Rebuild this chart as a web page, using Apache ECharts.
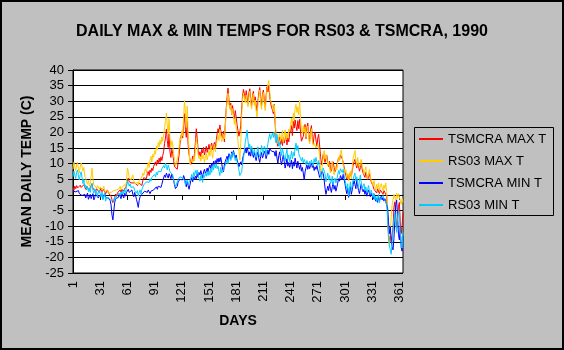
<!DOCTYPE html>
<html>
<head>
<meta charset="utf-8">
<script src="https://cdn.jsdelivr.net/npm/echarts@6/dist/echarts.min.js"></script>
<style>
html,body{margin:0;padding:0;background:#c0c0c0;}
#chart{width:564px;height:350px;}
</style>
</head>
<body>
<div id="chart"></div>
<script>
// Day numbers 1..365
const days = [];
for (let d = 1; d <= 365; d++) days.push(String(d));

const seriesNames = ['TSMCRA MAX T', 'RS03 MAX T', 'TSMCRA MIN T', 'RS03 MIN T'];

const tsmcraMax = [
 2.5,1.5,2.8,2.0,3.0,2.2,1.8,2.6,3.1,2.4,
 2.9,2.2,3.3,2.5,1.8,2.7,3.0,2.1,1.5,2.4,
 2.8,3.5,2.0,1.6,2.3,1.2,2.0,2.6,1.4,0.8,
 1.5,2.2,1.0,0.6,1.8,1.2,0.4,1.0,1.6,0.7,
 0.2,0.9,-0.5,-1.5,-2.5,-2.0,-0.8,0.3,-0.4,0.6,
 1.2,0.5,1.6,0.9,1.8,1.1,0.6,1.5,2.4,3.2,
 4.5,5.4,4.2,3.6,4.8,3.8,4.1,3.2,3.9,4.4,
 3.5,3.0,2.6,3.8,4.2,3.4,3.0,4.6,5.5,4.9,
 6.0,5.2,6.8,7.5,6.2,8.0,7.2,8.6,7.8,9.2,
 9.8,10.6,9.4,11.2,10.0,11.8,10.4,12.2,11.0,12.6,
 14.0,16.5,18.2,21.0,17.4,15.2,19.6,13.8,12.0,14.6,
 13.2,11.0,9.0,8.4,9.6,8.2,10.5,12.8,16.4,18.6,
 19.8,18.2,22.5,26.0,21.0,18.4,23.6,16.2,13.0,11.4,
 9.8,10.6,12.4,11.0,13.2,16.8,21.2,18.0,14.4,12.6,
 13.8,12.2,14.6,13.4,15.2,12.8,14.0,15.6,13.6,14.8,
 16.2,14.6,15.8,16.6,14.4,15.6,16.8,15.0,17.4,19.6,
 21.2,20.0,22.4,20.6,19.2,18.0,20.4,17.0,22.8,27.6,
 31.4,34.2,30.6,27.8,29.4,25.8,28.6,26.2,24.4,27.0,
 25.0,22.4,20.6,18.8,20.2,22.0,27.4,31.6,33.8,32.4,
 30.6,33.4,31.2,29.0,32.6,34.0,30.8,28.4,31.8,33.2,
 29.6,31.4,28.8,26.8,30.2,32.8,34.4,31.0,28.6,32.2,
 33.6,30.4,28.2,31.8,34.6,33.0,35.2,31.6,29.4,28.0,
 27.2,26.0,29.0,22.6,18.2,16.8,15.6,17.4,18.6,16.2,
 17.8,15.8,18.4,16.6,17.2,19.0,16.0,18.2,17.0,19.6,
 20.4,22.2,19.0,23.6,21.4,24.0,22.0,20.6,23.8,21.2,
 24.2,19.8,17.2,16.6,18.8,20.4,22.6,18.0,21.6,23.0,
 19.4,17.0,20.8,22.2,18.6,16.4,19.2,20.0,17.6,15.6,
 18.2,19.4,16.0,12.4,9.6,11.2,13.0,12.0,10.4,11.8,
 12.6,10.2,9.0,10.8,8.4,7.6,9.4,10.6,8.8,7.4,
 8.2,9.6,10.8,12.0,11.2,12.8,13.2,11.6,10.4,9.0,
 7.4,6.2,5.0,6.6,4.8,5.8,7.2,6.0,7.8,9.4,
 10.6,11.4,9.8,8.6,10.2,9.0,7.6,8.8,10.0,8.2,
 7.0,6.4,5.6,7.2,6.0,4.8,5.4,6.8,5.2,4.2,
 3.6,2.8,1.8,2.4,1.2,0.6,2.0,1.4,0.4,1.6,
 2.2,1.0,0.2,1.4,0.8,1.6,-0.4,-6.0,-12.4,-14.6,
 -13.2,-15.0,-12.8,-10.6,-4.0,-2.2,-6.4,-10.8,-8.2,-3.6,
 -2.4,-8.6,-12.4,-9.8,-5.6
];

const rs03Max = [
 8.2,10.5,9.0,7.8,9.6,10.4,8.4,7.0,9.2,10.2,
 9.8,7.6,8.8,6.0,5.2,4.2,3.4,4.6,2.8,3.6,
 4.0,8.6,5.0,3.2,2.6,3.6,2.2,3.0,2.4,1.8,
 2.6,3.2,1.6,2.2,2.8,1.2,1.8,0.8,1.4,0.6,
 1.2,0.4,0.8,0.2,0.6,1.4,1.8,0.8,1.6,2.2,
 1.4,2.0,2.8,1.6,2.4,3.0,2.2,3.4,2.6,4.2,
 8.6,7.4,5.6,6.2,4.8,5.4,6.4,4.6,3.6,4.2,
 3.4,4.0,3.2,4.6,5.2,4.0,5.8,7.0,6.2,7.6,
 8.4,7.2,9.0,10.4,8.8,11.2,12.4,10.6,13.0,12.0,
 14.2,13.0,15.6,14.4,16.8,15.4,17.6,16.2,18.6,17.2,
 19.4,21.6,23.8,26.2,22.0,19.8,24.4,18.0,15.2,17.4,
 16.0,13.2,11.0,9.2,8.6,9.8,12.6,15.2,18.2,17.4,
 20.6,18.8,24.6,30.2,26.4,21.6,28.4,19.2,14.6,9.8,
 9.2,11.4,10.2,12.0,10.8,14.6,18.2,16.4,12.8,11.6,
 12.4,10.8,13.0,11.6,12.8,10.4,12.2,13.4,11.2,12.6,
 14.2,12.4,15.8,13.6,11.8,14.8,16.2,13.8,15.6,17.8,
 19.2,17.4,21.0,18.6,17.0,16.6,19.4,18.0,21.6,26.8,
 30.0,32.6,29.2,27.4,28.8,26.0,27.6,25.2,22.6,24.8,
 21.4,19.6,17.2,14.0,11.2,16.4,24.8,30.4,32.6,31.0,
 29.4,32.0,30.0,28.2,31.4,33.2,29.6,27.6,30.8,32.4,
 28.6,30.4,26.8,25.0,28.8,31.6,33.6,29.8,27.4,31.2,
 32.8,29.2,27.0,30.6,33.8,35.4,36.6,33.0,30.2,29.6,
 28.4,26.6,28.8,24.0,19.2,17.6,16.4,18.8,19.6,17.2,
 18.6,20.6,16.8,19.2,20.8,17.6,19.8,18.2,21.0,20.2,
 22.4,24.6,21.8,26.2,24.0,27.8,29.0,26.4,28.2,25.6,
 30.2,24.4,21.0,19.6,22.2,20.0,21.8,18.4,20.6,22.0,
 18.0,16.4,19.6,21.2,17.4,15.8,16.6,17.2,15.0,14.4,
 16.2,15.0,12.6,8.4,6.2,9.8,12.2,14.2,11.4,13.0,
 11.6,9.4,10.6,8.2,7.0,9.0,10.8,8.4,6.4,7.8,
 9.2,8.0,10.6,12.2,11.0,13.6,14.4,12.0,9.6,8.4,
 7.2,8.0,5.6,6.8,4.4,6.0,7.6,5.2,8.6,11.8,
 12.8,14.2,11.2,9.4,12.0,10.2,8.6,10.6,11.4,9.0,
 8.2,6.6,7.8,9.0,6.4,5.2,7.0,8.2,5.8,4.6,
 4.2,3.0,4.6,2.6,1.6,3.4,2.0,3.8,1.2,2.8,
 3.6,2.2,1.4,3.2,2.0,3.8,1.0,-4.0,-14.6,-16.4,
 -12.0,-6.8,-3.2,-1.6,0.2,-0.8,-1.8,0.6,-1.2,0.4,
 -0.6,-1.8,-3.0,-1.2,-2.4
];

const tsmcraMin = [
 1.2,0.6,1.8,1.0,1.6,0.8,1.4,0.4,1.0,0.2,
 -0.2,0.4,-0.6,0.2,-1.0,-0.4,0.6,-1.4,-0.8,0.2,
 -1.2,-0.6,0.4,-1.6,-0.8,0.2,-0.4,0.6,-1.0,-0.2,
 0.4,-0.6,0.2,-1.2,-0.4,0.6,-0.8,-1.4,-0.2,-1.0,
 -0.6,-1.8,-3.2,-6.4,-8.0,-5.2,-2.4,-1.2,-0.6,-1.6,
 -0.8,0.2,-0.4,-1.2,0.4,-0.2,-1.0,0.6,-0.4,0.8,
 1.4,1.8,0.8,1.2,0.4,1.6,0.2,-0.6,0.8,-0.2,
 -1.4,-2.6,-4.0,-1.8,-0.6,-1.2,0.2,0.8,0.4,1.2,
 0.6,1.4,0.8,1.6,1.0,0.4,1.2,1.8,1.0,1.6,
 2.2,1.6,2.6,1.8,2.8,2.2,3.0,2.4,3.4,4.6,
 5.2,6.4,5.6,7.0,6.2,5.4,6.8,6.0,5.2,6.6,
 5.8,4.6,3.2,2.0,1.6,2.8,4.2,3.6,5.0,4.4,
 5.6,4.8,6.2,5.4,3.8,2.6,4.4,3.0,1.8,3.2,
 4.6,5.6,4.2,5.8,4.8,6.0,5.2,6.8,5.6,7.2,
 6.4,7.8,6.6,5.4,7.4,8.2,6.8,7.6,8.6,7.2,
 8.8,9.6,8.4,10.2,9.0,10.8,9.4,11.0,10.2,11.6,
 10.4,11.8,10.6,12.0,10.2,8.2,7.4,9.6,10.8,11.6,
 12.4,11.0,13.2,12.2,11.4,13.8,12.6,14.2,13.0,11.8,
 12.8,11.2,10.2,9.0,8.4,10.6,9.6,11.4,12.8,13.6,
 14.8,13.4,15.2,14.0,12.6,13.8,12.4,14.6,13.2,12.0,
 13.6,12.2,11.0,12.8,13.8,11.6,10.4,12.4,13.6,11.8,
 12.6,14.0,13.2,11.6,12.8,14.4,13.0,14.8,15.2,14.0,
 13.4,14.6,13.8,12.4,14.2,11.8,10.2,12.6,13.8,11.0,
 9.6,11.4,12.8,10.6,8.6,10.0,11.6,9.2,10.4,8.8,
 9.8,11.2,8.4,10.6,9.2,11.8,10.0,8.6,10.8,9.4,
 8.2,9.8,7.6,8.8,7.0,4.8,7.4,8.6,9.6,8.2,
 9.8,8.4,9.4,10.2,8.8,9.6,7.8,9.0,8.2,9.4,
 8.0,7.0,5.6,6.0,5.2,7.6,6.8,4.8,2.2,0.2,
 0.6,2.8,1.4,3.6,2.0,0.8,2.6,4.2,1.8,3.0,
 1.2,2.4,3.8,5.2,4.4,6.2,5.6,4.8,6.6,5.0,
 3.6,1.8,0.4,2.2,-0.8,1.0,2.6,0.2,1.6,3.2,
 4.6,3.4,2.0,4.8,2.8,1.4,0.4,2.2,3.6,1.8,
 1.0,1.8,0.2,1.4,-0.4,0.8,1.6,0.4,-0.6,0.6,
 -0.2,-1.4,0.2,-0.8,-2.0,-1.0,-2.4,-0.6,-1.8,-1.2,
 -0.4,-1.6,-0.8,-2.0,-1.2,-0.6,-1.8,-4.2,-8.6,-12.4,
 -10.2,-14.8,-16.6,-17.6,-14.0,-8.4,-3.2,-1.6,-6.8,-12.6,
 -14.4,-10.2,-16.8,-18.0,-13.2
];

const rs03Min = [
 5.8,7.6,6.4,5.2,7.2,8.0,6.0,4.8,6.6,7.4,
 5.4,3.6,5.0,2.4,3.2,1.6,2.8,1.0,2.2,0.8,
 2.6,3.8,1.4,0.6,2.0,0.2,1.2,-0.4,0.8,1.6,
 0.4,-0.8,1.0,-1.6,-0.4,0.6,-2.0,-0.8,-1.4,-0.2,
 -1.0,-0.4,-1.8,-2.4,-1.2,-2.0,-0.6,-1.4,-0.4,0.2,
 -0.6,0.6,-0.2,1.0,0.2,1.4,0.4,1.8,0.8,2.4,
 4.6,3.8,2.8,3.6,2.4,3.0,1.8,2.6,1.4,2.0,
 0.6,1.4,-0.4,0.8,1.6,0.2,1.8,2.4,3.2,2.6,
 3.4,4.2,3.6,4.8,4.0,5.2,4.4,5.6,5.0,6.0,
 6.6,5.8,7.2,6.4,7.6,7.0,8.0,7.4,8.4,8.8,
 9.4,8.6,10.2,9.0,8.0,9.6,8.6,7.4,6.8,7.8,
 6.4,5.0,3.6,2.6,3.0,4.2,5.0,4.4,5.8,5.2,
 6.0,5.4,5.8,4.6,3.2,2.6,4.8,3.4,2.8,4.0,
 5.4,6.6,5.0,7.2,6.0,7.8,6.8,8.0,6.4,5.2,
 4.4,6.2,5.2,4.0,6.6,5.6,7.0,6.0,7.4,6.2,
 7.8,6.4,8.6,7.2,9.4,8.0,9.8,8.6,10.0,8.4,
 9.2,7.6,6.2,8.8,7.0,6.4,7.8,8.8,9.6,10.4,
 11.2,10.0,11.8,12.6,11.0,13.4,12.0,13.8,12.4,11.0,
 12.0,10.6,9.4,8.0,6.2,5.8,7.4,9.8,11.6,14.2,
 16.8,18.6,20.8,17.4,15.0,16.2,13.8,15.6,14.4,12.8,
 14.6,13.2,12.0,14.0,15.4,13.0,12.2,13.6,15.8,14.2,
 13.4,15.6,14.8,12.6,14.6,16.4,18.2,19.6,17.8,18.8,
 19.8,18.4,20.2,18.0,16.6,19.4,17.2,15.6,16.8,14.4,
 12.6,14.8,15.2,12.0,10.8,13.2,14.6,11.4,12.8,10.6,
 12.2,14.0,11.6,13.6,12.4,15.0,16.6,14.2,15.8,13.2,
 12.4,11.6,10.8,12.0,10.2,11.4,10.6,9.6,11.0,10.4,
 9.4,10.8,9.8,11.2,10.0,9.2,11.6,10.4,12.0,10.6,
 9.6,11.0,8.4,6.6,5.0,7.2,8.6,9.2,6.8,4.2,
 5.6,7.0,4.8,6.2,3.6,4.4,6.0,3.2,4.6,5.4,
 3.8,5.0,6.4,7.8,6.6,8.4,9.0,7.2,8.2,6.4,
 4.8,3.2,1.6,3.6,-0.4,2.0,4.2,1.4,3.0,5.0,
 6.2,7.0,4.4,5.8,3.6,2.4,4.8,6.4,3.8,2.0,
 2.8,3.6,1.4,2.6,0.8,1.8,3.0,1.2,0.4,1.6,
 0.2,-0.8,0.6,-1.6,-0.4,-2.2,-1.0,0.2,-2.6,-1.2,
 -0.6,-1.8,-0.2,-1.4,-2.0,-0.8,-2.6,-7.8,-13.4,-16.2,
 -17.6,-19.0,-15.2,-11.6,-8.0,-5.6,-9.4,-12.0,-7.2,-5.0,
 -6.6,-11.8,-15.4,-17.0,-12.0
];

const yTickMin = -25, yTickMax = 40, yTickStep = 5;
const xLabelEvery = 30;

const FONT = '"Liberation Sans", Arial, sans-serif';
const colors = ['#ff0000', '#ffcc00', '#0000ff', '#00ccff'];
const dataSets = [tsmcraMax, rs03Max, tsmcraMin, rs03Min];

const chart = echarts.init(document.getElementById('chart'), null, {renderer: 'canvas'});
chart.setOption({
  backgroundColor: '#c0c0c0',
  animation: false,
  textStyle: {fontFamily: FONT},
  title: {
    text: 'DAILY MAX & MIN TEMPS FOR RS03 & TSMCRA, 1990',
    left: 'center',
    top: 19,
    textStyle: {fontFamily: FONT, fontSize: 16, fontWeight: 'bold', color: '#000'}
  },
  grid: {
    left: 73, top: 70, width: 330, height: 203,
    show: true, backgroundColor: '#ffffff', borderColor: '#000', borderWidth: 1,
    containLabel: false
  },
  legend: {
    orient: 'vertical',
    left: 419, top: 132,
    padding: 0,
    icon: 'rect',
    itemWidth: 24, itemHeight: 2, itemGap: 8,
    data: seriesNames,
    textStyle: {fontFamily: FONT, fontSize: 13, lineHeight: 14, color: '#000'}
  },
  xAxis: {
    type: 'category',
    data: days,
    boundaryGap: false,
    name: 'DAYS',
    nameLocation: 'middle',
    nameGap: 41,
    nameTextStyle: {fontFamily: FONT, fontSize: 14, fontWeight: 'bold', color: '#000'},
    axisLine: {lineStyle: {color: '#000', width: 1}},
    axisTick: {show: true, interval: xLabelEvery - 1, length: 5, lineStyle: {color: '#000'}},
    axisLabel: {interval: xLabelEvery - 1, rotate: 90, margin: 8, fontSize: 13, color: '#000', fontFamily: FONT},
    splitLine: {show: false}
  },
  yAxis: {
    type: 'value',
    min: yTickMin, max: yTickMax, interval: yTickStep,
    name: 'MEAN DAILY TEMP (C)',
    nameLocation: 'middle',
    nameGap: 38,
    nameRotate: 90,
    nameTextStyle: {fontFamily: FONT, fontSize: 14, fontWeight: 'bold', color: '#000'},
    axisLine: {show: true, lineStyle: {color: '#000', width: 1}},
    axisTick: {show: true, length: 5, lineStyle: {color: '#000'}},
    axisLabel: {margin: 9, fontSize: 13, color: '#000', fontFamily: FONT},
    splitLine: {show: true, lineStyle: {color: '#000', width: 1}}
  },
  graphic: [
    {type: 'rect', silent: true, z: 100,
     shape: {x: 1, y: 1, width: 562, height: 348},
     style: {fill: 'none', stroke: '#000', lineWidth: 2}},
    {type: 'rect', silent: true, z: 100,
     shape: {x: 414.5, y: 127.5, width: 139, height: 88},
     style: {fill: 'none', stroke: '#000', lineWidth: 1}}
  ],
  series: seriesNames.map((n, i) => ({
    name: n,
    type: 'line',
    data: dataSets[i],
    symbol: 'none',
    showSymbol: false,
    color: colors[i],
    lineStyle: {width: 1, color: colors[i]},
    emphasis: {disabled: true}
  }))
});
</script>
</body>
</html>
